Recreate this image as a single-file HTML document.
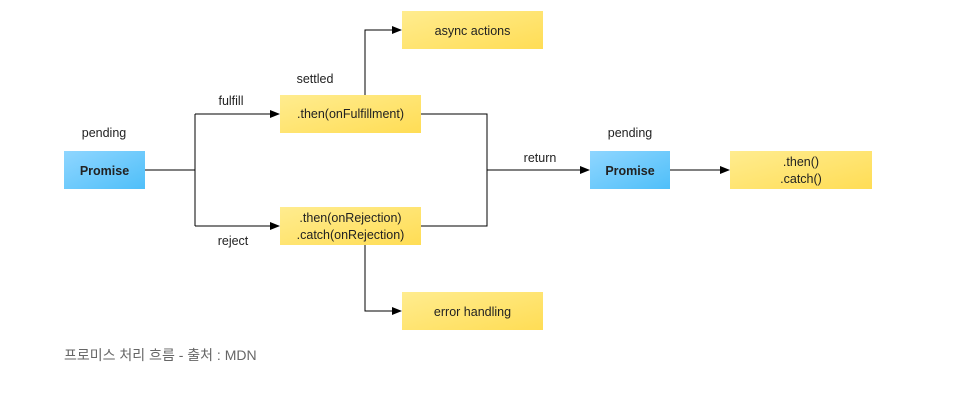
<!DOCTYPE html>
<html><head><meta charset="utf-8"><style>
body{margin:0;width:955px;height:410px;background:#fff;overflow:hidden;font-family:"Liberation Sans","NanumGothic",sans-serif;}
svg{position:absolute;left:0;top:0}
.cap{position:absolute;left:64px;top:345px;font-size:14px;color:#666;font-family:"Liberation Sans","Noto Sans CJK KR",sans-serif}
</style></head><body>
<svg width="955" height="410" font-size="12.5" font-family="Liberation Sans, sans-serif">
<defs>
<linearGradient id="b" x1="0" y1="0" x2="1" y2="1"><stop offset="0" stop-color="#8fd6ff"/><stop offset="1" stop-color="#4fbff9"/></linearGradient>
<linearGradient id="y" x1="0" y1="0" x2="1" y2="1"><stop offset="0" stop-color="#ffec8f"/><stop offset="1" stop-color="#ffdd55"/></linearGradient>
<marker id="a" markerWidth="10" markerHeight="8" refX="9" refY="4" orient="auto" markerUnits="userSpaceOnUse"><path d="M0,0L10,4L0,8z" fill="#000"/></marker>
</defs>
<g stroke="#000" fill="none" stroke-width="1">
<path d="M145,170H195"/>
<path d="M195,114V226"/>
<path d="M195,114H279" marker-end="url(#a)"/>
<path d="M195,226H279" marker-end="url(#a)"/>
<path d="M365,95V30H401" marker-end="url(#a)"/>
<path d="M365,245V311H401" marker-end="url(#a)"/>
<path d="M421,114H487V226H421"/>
<path d="M487,170H589" marker-end="url(#a)"/>
<path d="M670,170H729" marker-end="url(#a)"/>
</g>
<rect x="64" y="151" width="81" height="38" fill="url(#b)"/>
<rect x="590" y="151" width="80" height="38" fill="url(#b)"/>
<rect x="280" y="95" width="141" height="38" fill="url(#y)"/>
<rect x="280" y="207" width="141" height="38" fill="url(#y)"/>
<rect x="402" y="11" width="141" height="38" fill="url(#y)"/>
<rect x="402" y="292" width="141" height="38" fill="url(#y)"/>
<rect x="730" y="151" width="142" height="38" fill="url(#y)"/>
<g text-anchor="middle" fill="#222">
<text x="104.5" y="175" font-weight="bold">Promise</text>
<text x="630" y="175" font-weight="bold">Promise</text>
<text x="350.5" y="118">.then(onFulfillment)</text>
<text x="350.5" y="222">.then(onRejection)</text>
<text x="350.5" y="239">.catch(onRejection)</text>
<text x="472.5" y="35">async actions</text>
<text x="472.5" y="316">error handling</text>
<text x="801" y="166">.then()</text>
<text x="801" y="183">.catch()</text>
<text x="104" y="137">pending</text>
<text x="630" y="137">pending</text>
<text x="231" y="105">fulfill</text>
<text x="315" y="83">settled</text>
<text x="233" y="245">reject</text>
<text x="540" y="162">return</text>
</g>
</svg>
<div class="cap">프로미스 처리 흐름 - 출처 : MDN</div>
</body></html>
